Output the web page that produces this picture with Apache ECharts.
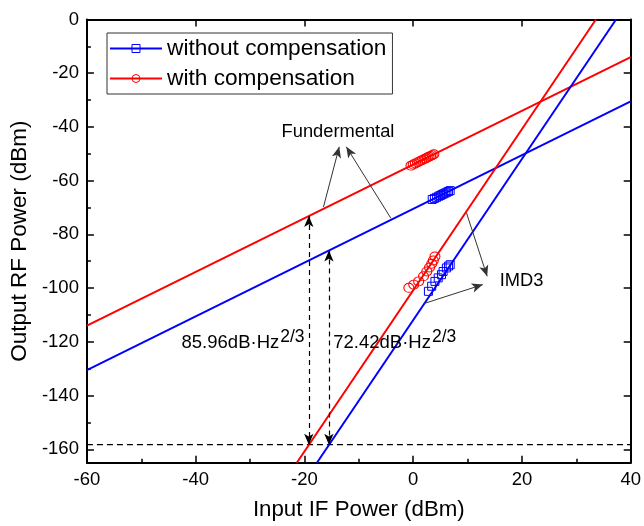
<!DOCTYPE html>
<html><head><meta charset="utf-8">
<script src="https://cdn.jsdelivr.net/npm/echarts@6/dist/echarts.min.js"></script>
<style>html,body{margin:0;padding:0;background:#fff}#c{width:644px;height:526px}</style>
</head><body><div id="c"></div>
<script>
const FONT = "'Liberation Sans', Arial, Helvetica, sans-serif";
const BLUE = '#0000ff', RED = '#ff0000';

const xTicks = [-60, -40, -20, 0, 20, 40];
const yTicks = [0, -20, -40, -60, -80, -100, -120, -140, -160];
const yMinorTicks = [-10, -30, -50, -70, -90, -110, -130, -150];
const xRange = [-60, 40];
const yRange = [-165, 0];

const fundWithoutX = [-60, 40];
const fundWithoutY = [-130.5, -30.5];
const fundWithX = [-60, 40];
const fundWithY = [-114, -14];
const imd3WithoutX = [-17.7, 37.3];
const imd3WithoutY = [-165, 0];
const imd3WithX = [-21.4, 33.6];
const imd3WithY = [-165, 0];
const noiseX = [-60, 40];
const noiseY = [-158.3, -158.3];

const measWithoutFundX = [3.5, 3.9, 4.3, 4.7, 5.0, 5.3, 5.6, 5.9, 6.2, 6.5, 6.8];
const measWithoutFundY = [-67.0, -66.6, -66.2, -65.8, -65.5, -65.2, -64.9, -64.6, -64.3, -64.0, -63.7];
const measWithoutImdX = [2.8, 3.4, 4.0, 4.6, 5.2, 5.5, 6.1, 6.5, 6.8];
const measWithoutImdY = [-101.2, -99.3, -97.5, -96.2, -95.0, -93.8, -92.5, -91.8, -91.3];
const measWithFundX = [-0.4, 0.0, 0.4, 0.8, 1.2, 1.6, 2.0, 2.3, 2.6, 2.9, 3.2, 3.5, 3.8];
const measWithFundY = [-54.4, -54.0, -53.6, -53.2, -52.8, -52.4, -52.0, -51.7, -51.4, -51.1, -50.8, -50.5, -50.2];
const measWithImdX = [-0.8, 0.1, 1.0, 1.9, 2.5, 3.0, 3.4, 3.7, 4.0];
const measWithImdY = [-99.9, -98.7, -97.5, -95.6, -93.8, -92.3, -90.9, -89.7, -88.2];

// annotation arrows [x1, y1, x2, y2]
const arrowFundRed = [-16.5, -69.8, -13.6, -47.4];
const arrowFundBlue = [-4.1, -74.0, -12.3, -47.4];
const arrowImdRed = [9.8, -72.0, 13.6, -95.6];
const arrowImdBlue = [1.9, -105.8, 12.8, -98.7];
const dashArrowWith = [-19.2, -73.2, -19.2, -158.3];
const dashArrowWithout = [-15.5, -86.0, -15.5, -158.3];

const labelFund = {text: 'Fundermental', x: -24.2, y: -41.7};
const labelImd = {text: 'IMD3', x: 15.9, y: -97.5};
const labelSfdrWith = {main: '85.96dB·Hz', sup: '2/3', x: -42.6, y: -120.3};
const labelSfdrWithout = {main: '72.42dB·Hz', sup: '2/3', x: -14.7, y: -120.3};

const zip = (xs, ys) => xs.map((x, i) => [x, ys[i]]);

const chart = echarts.init(document.getElementById('c'), null, {renderer: 'canvas'});

function lineSeries(xs, ys, color) {
  return {type: 'line', xAxisIndex: 0, yAxisIndex: 0, data: zip(xs, ys), showSymbol: false, symbol: 'none',
    lineStyle: {color: color, width: 2}, silent: true, z: 3, animation: false};
}
function arrowItem(a, style, symbols) {
  return [{coord: [a[0], a[1]], symbol: symbols[0]}, {coord: [a[2], a[3]], symbol: symbols[1]}].map((p, i) => Object.assign(p, i === 0 ? {lineStyle: style} : {}));
}
const solidArrow = {color: '#333', width: 1, type: 'solid'};
const dashArrow = {color: '#000', width: 1.2, type: [5, 4]};

const axisCommon = {
  type: 'value', splitLine: {show: false},
  axisLine: {show: true, onZero: false, lineStyle: {color: '#000', width: 2}},
};

chart.setOption({
  animation: false,
  backgroundColor: '#fff',
  grid: {left: 85.5, right: 10, top: 19.5, bottom: 63.3, containLabel: false},
  legend: {
    data: ['without compensation', 'with compensation'],
    orient: 'vertical', left: 107, top: 33,
    itemWidth: 52, itemHeight: 10, itemGap: 7,
    padding: [4, 6, 4, 2],
    borderColor: '#333', borderWidth: 1,
    textStyle: {fontSize: 22.7, color: '#000', fontFamily: FONT},
    lineStyle: {width: 2, opacity: 1},
    itemStyle: {borderWidth: 1},
    selectedMode: false
  },
  xAxis: [
    Object.assign({}, axisCommon, {
      position: 'bottom', min: xRange[0], max: xRange[1], interval: 20,
      axisTick: {show: true, inside: true, length: 7, lineStyle: {color: '#000', width: 1.5}},
      minorTick: {show: true, splitNumber: 2, length: 4, lineStyle: {color: '#000', width: 1.5}},
      axisLabel: {fontSize: 18.5, color: '#000', fontFamily: FONT, margin: 8},
      name: 'Input IF Power (dBm)', nameLocation: 'middle', nameGap: 36,
      nameTextStyle: {fontSize: 22.3, color: '#000', fontFamily: FONT}
    }),
    Object.assign({}, axisCommon, {
      position: 'top', min: xRange[0], max: xRange[1], interval: 20,
      axisTick: {show: true, inside: true, length: 7, lineStyle: {color: '#000', width: 1.5}},
      axisLabel: {show: false}
    })
  ],
  yAxis: [
    Object.assign({}, axisCommon, {
      position: 'left', min: yRange[0], max: yRange[1],
      axisTick: {show: true, inside: true, length: 7, customValues: yTicks, lineStyle: {color: '#000', width: 1.5}},
      axisLabel: {fontSize: 18.5, color: '#000', fontFamily: FONT, margin: 8, customValues: yTicks},
      name: 'Output RF Power (dBm)', nameLocation: 'middle', nameGap: 52,
      nameTextStyle: {fontSize: 22.5, color: '#000', fontFamily: FONT}
    }),
    Object.assign({}, axisCommon, {
      position: 'left', min: yRange[0], max: yRange[1],
      axisLine: {show: false, onZero: false},
      axisTick: {show: true, inside: true, length: 4, customValues: yMinorTicks, lineStyle: {color: '#000', width: 1.5}},
      axisLabel: {show: false}
    }),
    Object.assign({}, axisCommon, {
      position: 'right', min: yRange[0], max: yRange[1],
      axisTick: {show: true, inside: true, length: 7, customValues: yTicks, lineStyle: {color: '#000', width: 1.5}},
      axisLabel: {show: false}
    })
  ],
  series: [
    lineSeries(fundWithoutX, fundWithoutY, BLUE),
    lineSeries(fundWithX, fundWithY, RED),
    lineSeries(imd3WithoutX, imd3WithoutY, BLUE),
    lineSeries(imd3WithX, imd3WithY, RED),
    {
      type: 'line', xAxisIndex: 0, yAxisIndex: 0, data: zip(noiseX, noiseY), showSymbol: false, symbol: 'none',
      lineStyle: {color: '#000', width: 1.2, type: [6, 4]}, silent: true, z: 2,
      markLine: {
        silent: true, animation: false, label: {show: false}, symbolSize: [7, 11],
        lineStyle: solidArrow,
        data: [
          arrowItem(arrowFundRed, solidArrow, ['none', 'arrow']),
          arrowItem(arrowFundBlue, solidArrow, ['none', 'arrow']),
          arrowItem(arrowImdRed, solidArrow, ['none', 'arrow']),
          arrowItem(arrowImdBlue, solidArrow, ['none', 'arrow']),
          arrowItem(dashArrowWith, dashArrow, ['arrow', 'arrow']),
          arrowItem(dashArrowWithout, dashArrow, ['arrow', 'arrow'])
        ]
      }
    },
    {
      name: 'without compensation', type: 'line', xAxisIndex: 0, yAxisIndex: 0,
      data: zip(measWithoutFundX, measWithoutFundY).concat([null], zip(measWithoutImdX, measWithoutImdY)),
      symbol: 'rect', symbolSize: 8, showSymbol: true, connectNulls: false,
      itemStyle: {color: 'rgba(0,0,255,0)', borderColor: BLUE, borderWidth: 1},
      lineStyle: {color: BLUE, width: 0, opacity: 0}, z: 4, silent: true
    },
    {
      name: 'with compensation', type: 'line', xAxisIndex: 0, yAxisIndex: 0,
      data: zip(measWithFundX, measWithFundY).concat([null], zip(measWithImdX, measWithImdY)),
      symbol: 'circle', symbolSize: [10, 9], showSymbol: true, connectNulls: false,
      itemStyle: {color: 'rgba(255,0,0,0)', borderColor: RED, borderWidth: 1},
      lineStyle: {color: RED, width: 0, opacity: 0}, z: 4, silent: true
    }
  ]
});

function px(x, y) { return chart.convertToPixel({xAxisIndex: 0, yAxisIndex: 0}, [x, y]); }
const txtStyle = {fill: '#000', fontSize: 18.3, fontFamily: FONT};
function simpleText(l) {
  const p = px(l.x, l.y);
  return {type: 'text', x: p[0], y: p[1], silent: true, z: 10,
    style: Object.assign({text: l.text, align: 'left', verticalAlign: 'middle'}, txtStyle)};
}
function supText(l) {
  const p = px(l.x, l.y);
  return {type: 'text', x: p[0], y: p[1], silent: true, z: 10,
    style: {text: '{a|' + l.main + '}{s|' + l.sup + '}', align: 'left', verticalAlign: 'middle',
      fill: '#000', fontFamily: FONT, fontSize: 18.5,
      rich: {a: {fontSize: 18.5, fontFamily: FONT, fill: '#000'},
             s: {fontSize: 17.5, fontFamily: FONT, fill: '#000', padding: [0, 0, 11, 1]}}}};
}
chart.setOption({graphic: [simpleText(labelFund), simpleText(labelImd), supText(labelSfdrWith), supText(labelSfdrWithout)]});
</script>
</body></html>
